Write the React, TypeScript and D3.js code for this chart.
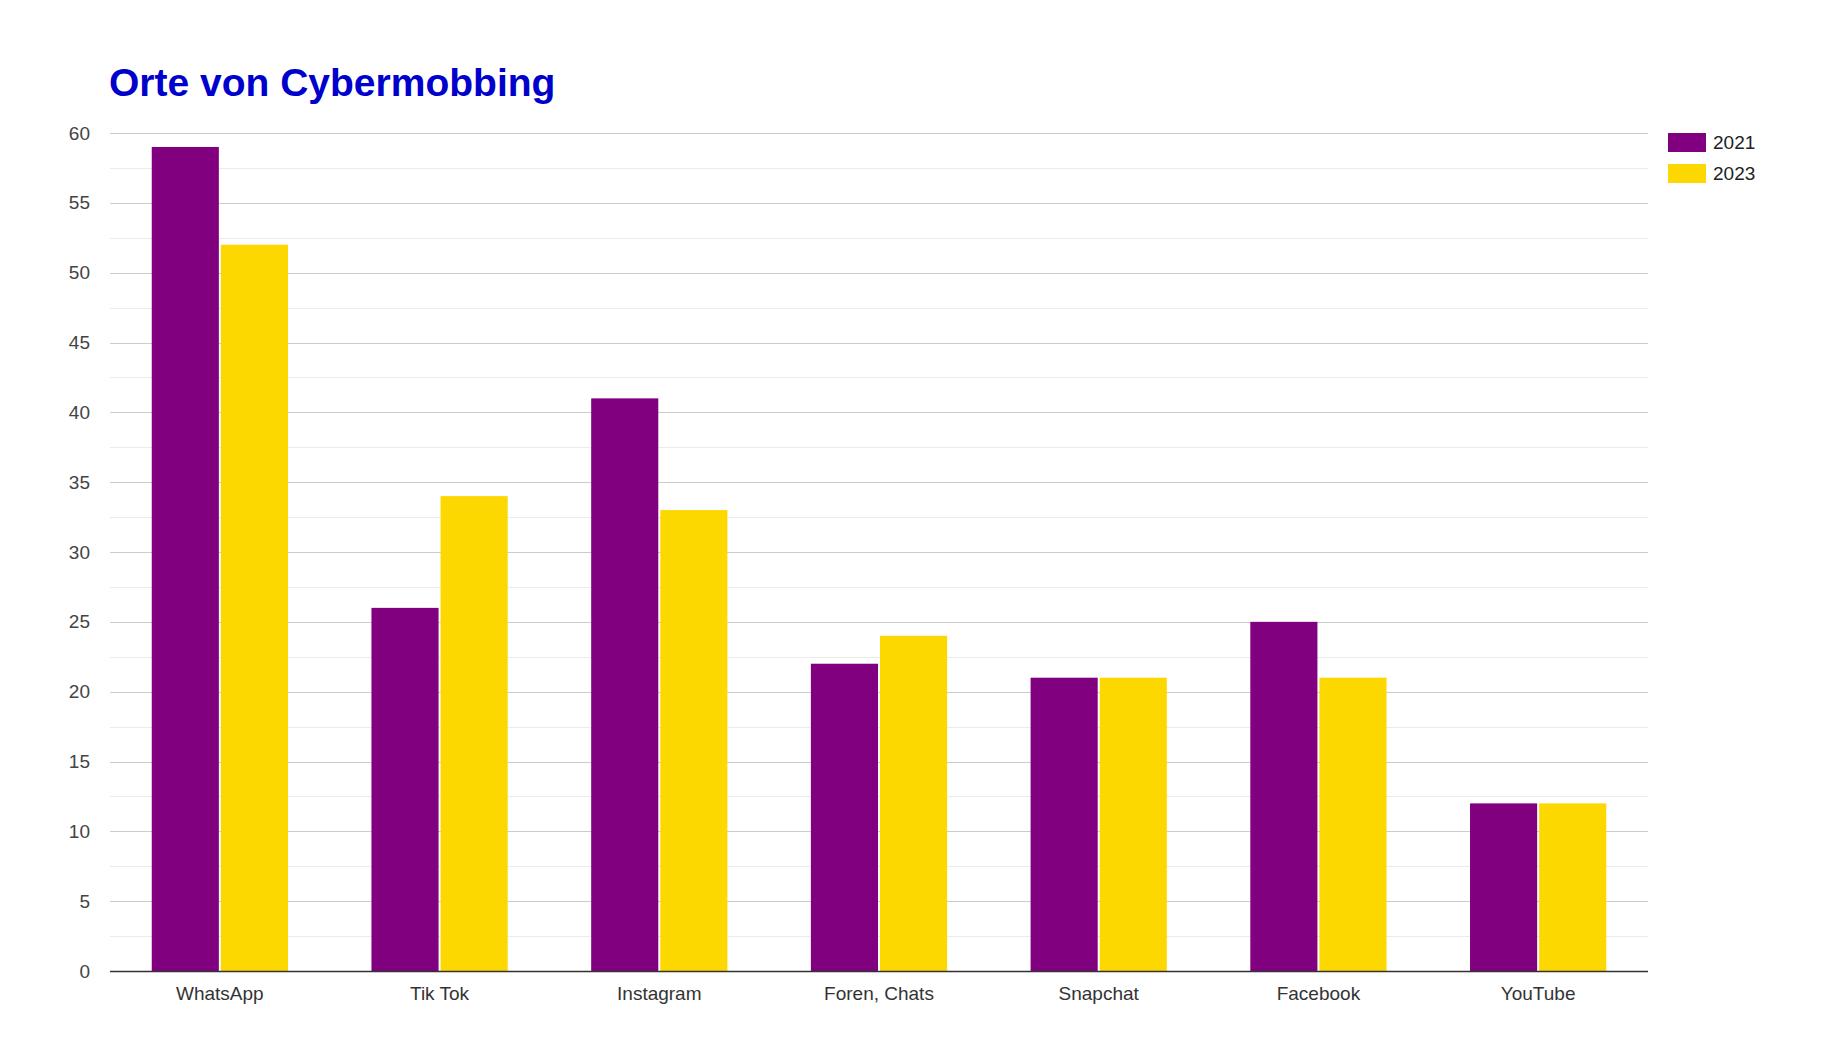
import React, { useEffect, useRef } from 'react'
import * as d3 from 'd3'

const categories = ['WhatsApp', 'Tik Tok', 'Instagram', 'Foren, Chats', 'Snapchat', 'Facebook', 'YouTube']
const seriesNames = ['2021', '2023']
const values2021 = [59, 26, 41, 22, 21, 25, 12]
const values2023 = [52, 34, 33, 24, 21, 21, 12]
const yTicks = [0, 5, 10, 15, 20, 25, 30, 35, 40, 45, 50, 55, 60]
const colors = ['#800080', '#FCD700']

const W = 1832
const H = 1056

const App = () => {
  const ref = useRef<SVGSVGElement>(null)

  useEffect(() => {
    const svg = d3.select(ref.current)
    svg.selectAll('*').remove()

    const left = 110
    const right = 1648
    const top = 133
    const bottom = 971
    const font = '"Liberation Sans", Arial, sans-serif'

    const x = d3.scaleBand().domain(categories).range([left, right]).paddingInner(0.38).paddingOuter(0.19)
    const xs = d3.scaleBand().domain(seriesNames).range([0, x.bandwidth()])
    const y = d3.scaleLinear().domain([0, 60]).range([bottom, top])

    svg.append('rect').attr('width', W).attr('height', H).attr('fill', '#fff')

    // minor gridlines
    const minor = d3.range(2.5, 60, 5)
    svg
      .append('g')
      .selectAll('line')
      .data(minor)
      .enter()
      .append('line')
      .attr('x1', left)
      .attr('x2', right)
      .attr('y1', (d) => Math.round(y(d)) + 0.5)
      .attr('y2', (d) => Math.round(y(d)) + 0.5)
      .attr('stroke', '#ebebeb')

    // major gridlines
    svg
      .append('g')
      .selectAll('line')
      .data(yTicks.filter((d) => d > 0))
      .enter()
      .append('line')
      .attr('x1', left)
      .attr('x2', right)
      .attr('y1', (d) => Math.round(y(d)) + 0.5)
      .attr('y2', (d) => Math.round(y(d)) + 0.5)
      .attr('stroke', '#cccccc')

    // y labels
    svg
      .append('g')
      .selectAll('text')
      .data(yTicks)
      .enter()
      .append('text')
      .attr('x', 90)
      .attr('y', (d) => y(d))
      .attr('dy', '0.35em')
      .attr('text-anchor', 'end')
      .attr('font-family', font)
      .attr('font-size', 19)
      .attr('fill', '#444')
      .text((d) => d)

    // bars
    const series = [values2021, values2023]
    const groups = svg
      .append('g')
      .selectAll('g')
      .data(categories)
      .enter()
      .append('g')
      .attr('transform', (d) => `translate(${x(d)},0)`)

    groups
      .selectAll('rect')
      .data((d, i) => seriesNames.map((s, j) => ({ key: s, value: series[j][i], idx: j })))
      .enter()
      .append('rect')
      .attr('x', (d) => (xs(d.key) as number) + (d.idx === 1 ? 1 : 0))
      .attr('width', xs.bandwidth() - 1)
      .attr('y', (d) => y(d.value))
      .attr('height', (d) => y(0) - y(d.value))
      .attr('fill', (d) => colors[d.idx])

    // baseline
    svg
      .append('line')
      .attr('x1', left)
      .attr('x2', right)
      .attr('y1', Math.round(y(0)) + 0.5)
      .attr('y2', Math.round(y(0)) + 0.5)
      .attr('stroke', '#333')
      .attr('stroke-width', 1.5)

    // x labels
    svg
      .append('g')
      .selectAll('text')
      .data(categories)
      .enter()
      .append('text')
      .attr('x', (d) => (x(d) as number) + x.bandwidth() / 2)
      .attr('y', 1000)
      .attr('text-anchor', 'middle')
      .attr('font-family', font)
      .attr('font-size', 19)
      .attr('fill', '#333')
      .text((d) => d)

    // title
    svg
      .append('text')
      .attr('x', 109)
      .attr('y', 96)
      .attr('font-family', font)
      .attr('font-size', 39)
      .attr('font-weight', 'bold')
      .attr('fill', '#0000CC')
      .text('Orte von Cybermobbing')

    // legend
    const legend = svg
      .append('g')
      .selectAll('g')
      .data(seriesNames)
      .enter()
      .append('g')
      .attr('transform', (d, i) => `translate(1668,${133 + i * 31})`)
    legend.append('rect').attr('width', 38).attr('height', 19).attr('fill', (d, i) => colors[i])
    legend
      .append('text')
      .attr('x', 45)
      .attr('y', 9.5)
      .attr('dy', '0.35em')
      .attr('font-family', font)
      .attr('font-size', 19)
      .attr('fill', '#222')
      .text((d) => d)
  })

  return (
    <svg
      ref={ref}
      width={W}
      height={H}
      style={{ position: 'absolute', left: 0, top: 0, display: 'block' }}
    />
  )
}

export default App
